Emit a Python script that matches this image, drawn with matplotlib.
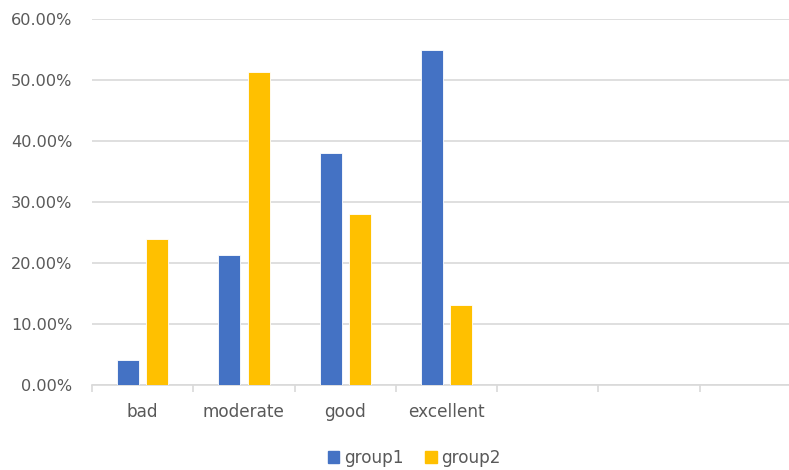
import matplotlib
matplotlib.use('Agg')
import matplotlib.pyplot as plt
import numpy as np
from matplotlib.ticker import PercentFormatter, FixedLocator
from matplotlib.patches import Patch

# DADOS
categorias = ['bad', 'moderate', 'good', 'excellent', '', '', '']
group1 = [4.1, 21.3, 38.1, 55.0]
group2 = [24.0, 51.3, 28.0, 13.1]
yticks = [0, 10, 20, 30, 40, 50, 60]

azul = '#4472C4'
amarelo = '#FFC000'
cinza_txt = '#595959'
cinza_linha = '#D9D9D9'

plt.rcParams['font.family'] = ['DejaVu Sans']

fig = plt.figure(figsize=(7.89, 4.70), dpi=100)
ax = fig.add_axes([92 / 789, 85 / 470, 709 / 789, 366 / 470])

x = np.arange(len(group1))
largura = 0.217
ax.bar(x - 0.145, group1, width=largura, color=azul, edgecolor='white', linewidth=0.6, zorder=3)
ax.bar(x + 0.145, group2, width=largura, color=amarelo, edgecolor='white', linewidth=0.6, zorder=3)

ax.set_xlim(-0.5, len(categorias) - 0.5)
ax.set_ylim(0, 60)
ax.set_yticks(yticks)
ax.yaxis.set_major_formatter(PercentFormatter(decimals=2))
ax.grid(axis='y', color=cinza_linha, linewidth=1.2, zorder=0)

ax.set_xticks(np.arange(len(categorias)))
ax.set_xticklabels(categorias)
ax.xaxis.set_minor_locator(FixedLocator(np.arange(-0.5, len(categorias), 1)))
ax.tick_params(axis='x', which='major', length=0, pad=13, labelsize=12.2, labelcolor=cinza_txt)
ax.tick_params(axis='x', which='minor', length=5, width=1.2, color=cinza_linha)
ax.tick_params(axis='y', length=0, pad=14, labelsize=11.6, labelcolor=cinza_txt)

for lado in ['top', 'right', 'left']:
    ax.spines[lado].set_visible(False)
ax.spines['bottom'].set_color(cinza_linha)
ax.spines['bottom'].set_linewidth(1.2)

# LEGENDA
handles = [Patch(color=azul, label='group1'), Patch(color=amarelo, label='group2')]
fig.legend(handles=handles, loc='center', bbox_to_anchor=(0.525, 0.026), ncol=2, frameon=False,
           fontsize=12.2, labelcolor=cinza_txt, handlelength=0.7, handleheight=0.7,
           handletextpad=0.25, columnspacing=1.3)

plt.savefig('out.png', dpi=100)
